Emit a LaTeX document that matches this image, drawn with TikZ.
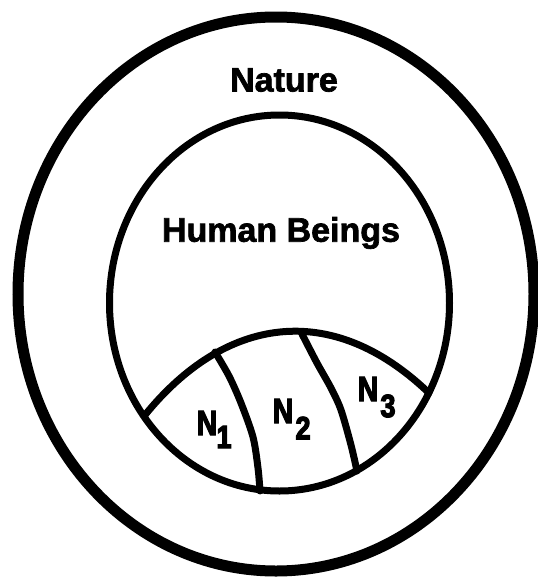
\documentclass[tikz,border=0pt]{standalone}
\usepackage{fontspec}
\setmainfont{Liberation Sans}
\newfontfamily\heavyfont[FakeBold=2]{Liberation Sans Bold}
\newfontfamily\heavierfont[FakeBold=4]{Liberation Sans Bold}
\begin{document}
\begin{tikzpicture}[x=1pt,y=-1pt,
  outerring/.style={line width=11pt},
  innerline/.style={line width=7pt, line cap=round, line join=round},
  bigtext/.style={font=\fontsize{34}{40}\heavyfont, inner sep=0pt},
  ntext/.style={font=\fontsize{35}{40}\heavierfont, inner sep=0pt, xscale=0.8},
  subtext/.style={font=\fontsize{32}{36}\heavierfont, inner sep=0pt, xscale=0.85}]
\useasboundingbox (0,0) rectangle (538,579);
% outer ring (Nature)
\draw[outerring] (276,294) ellipse [x radius=258pt, y radius=277pt];
% inner (Human Beings)
\draw[innerline] (279.5,303) ellipse [x radius=170pt, y radius=188pt];
% lens corners on the inner ellipse
\coordinate (L) at (145,415);
\coordinate (R) at (429,393);
\draw[innerline] (L) .. controls (224.3,317.2) and (330.7,298.8) .. (R);
% dividers
\draw[innerline] plot[smooth] coordinates {(215,352) (229,376) (241,403) (253,437) (258,468) (260,491)};
\draw[innerline] plot[smooth] coordinates {(302,334) (317,363) (331,388) (341,410) (351,445) (357,471)};
% labels
\node[bigtext] (nature) at (284,80) {Nature};
\node[bigtext] (human) at (281,233) {Human Beings};
\node[ntext] (n1) at (207,423) {N};
\node[subtext] (s1) at (224,437) {1};
\node[ntext] (n2) at (283,411) {N};
\node[subtext] (s2) at (303,428) {2};
\node[ntext] (n3) at (368,389) {N};
\node[subtext] (s3) at (388,406) {3};
\end{tikzpicture}
\end{document}
